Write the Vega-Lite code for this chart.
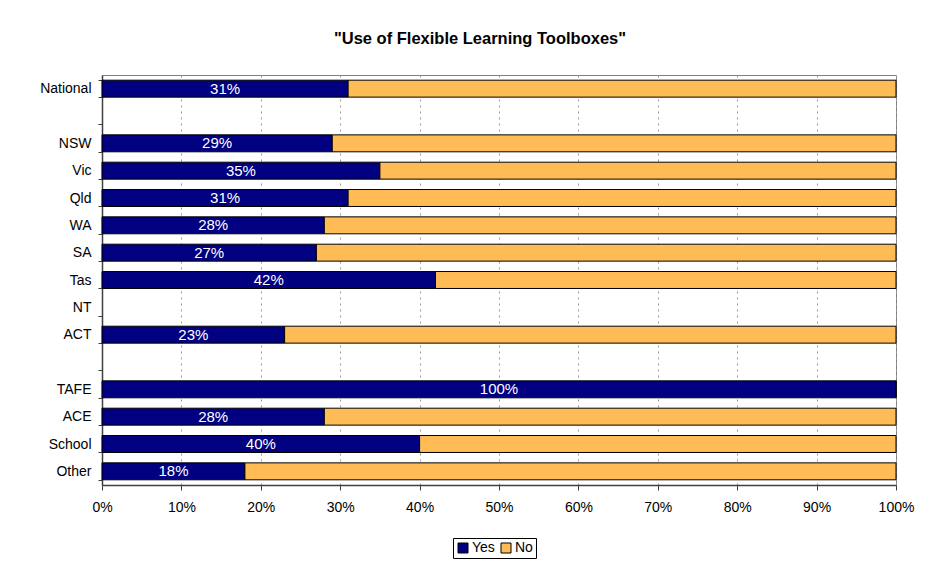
{
  "$schema": "https://vega.github.io/schema/vega-lite/v6.json",
  "autosize": "none",
  "width": 794,
  "height": 410,
  "padding": {"left": 102, "top": 75, "right": 33, "bottom": 83},
  "background": "white",
  "config": {
    "font": "Liberation Sans",
    "view": {"stroke": "#808080", "strokeWidth": 1}
  },
  "title": {
    "text": "\"Use of Flexible Learning Toolboxes\"",
    "font": "Liberation Sans",
    "fontSize": 16.5,
    "fontWeight": "bold",
    "color": "#000000",
    "anchor": "middle",
    "offset": 21,
    "dx": -19
  },
  "data": {
    "values": [
      {"cat": "National", "Yes": 31, "No": 69},
      {"cat": "NSW", "Yes": 29, "No": 71},
      {"cat": "Vic", "Yes": 35, "No": 65},
      {"cat": "Qld", "Yes": 31, "No": 69},
      {"cat": "WA", "Yes": 28, "No": 72},
      {"cat": "SA", "Yes": 27, "No": 73},
      {"cat": "Tas", "Yes": 42, "No": 58},
      {"cat": "ACT", "Yes": 23, "No": 77},
      {"cat": "TAFE", "Yes": 100, "No": 0},
      {"cat": "ACE", "Yes": 28, "No": 72},
      {"cat": "School", "Yes": 40, "No": 60},
      {"cat": "Other", "Yes": 18, "No": 82}
    ]
  },
  "encoding": {
    "y": {
      "field": "cat",
      "type": "nominal",
      "title": null,
      "scale": {
        "domain": ["National", " ", "NSW", "Vic", "Qld", "WA", "SA", "Tas", "NT", "ACT", "  ", "TAFE", "ACE", "School", "Other"],
        "paddingInner": 0.38,
        "paddingOuter": 0.19
      },
      "axis": {
        "tickBand": "extent",
        "tickSize": 4,
        "tickColor": "#404040",
        "domainColor": "#404040",
        "domainWidth": 1.5,
        "labelFontSize": 14,
        "labelColor": "#000000",
        "labelPadding": 7,
        "grid": false
      }
    }
  },
  "layer": [
    {
      "transform": [
        {"fold": ["Yes", "No"], "as": ["answer", "value"]}
      ],
      "mark": {"type": "bar", "stroke": "#000000", "strokeWidth": 1},
      "encoding": {
        "x": {
          "field": "value",
          "type": "quantitative",
          "stack": "zero",
          "title": null,
          "scale": {"domain": [0, 100], "nice": false},
          "axis": {
            "values": [0, 10, 20, 30, 40, 50, 60, 70, 80, 90, 100],
            "labelExpr": "datum.value + '%'",
            "labelFlush": false,
            "labelFontSize": 14,
            "labelColor": "#000000",
            "tickSize": 5,
            "tickColor": "#404040",
            "domainColor": "#404040",
            "domainWidth": 1.5,
            "labelPadding": 10,
            "grid": true,
            "gridColor": "#999999",
            "gridDash": [2, 4],
            "gridWidth": 1
          }
        },
        "color": {
          "field": "answer",
          "type": "nominal",
          "scale": {"domain": ["Yes", "No"], "range": ["#000080", "#FFBB55"]},
          "legend": {
            "title": null,
            "orient": "none",
            "legendX": 351,
            "legendY": 463,
            "direction": "horizontal",
            "symbolType": "square",
            "symbolSize": 100,
            "symbolStrokeColor": "#000000",
            "symbolStrokeWidth": 1,
            "labelFontSize": 14,
            "labelColor": "#000000",
            "labelOffset": 2,
            "columnPadding": 4,
            "strokeColor": "#000000",
            "padding": 3
          }
        },
        "order": {"field": "answer", "sort": "descending"}
      }
    },
    {
      "transform": [
        {"calculate": "datum.Yes / 2", "as": "mid"},
        {"calculate": "datum.Yes + '%'", "as": "label"}
      ],
      "mark": {"type": "text", "color": "#FFFFFF", "fontSize": 15, "baseline": "middle", "align": "center"},
      "encoding": {
        "x": {"field": "mid", "type": "quantitative"},
        "text": {"field": "label", "type": "nominal"}
      }
    }
  ]
}
